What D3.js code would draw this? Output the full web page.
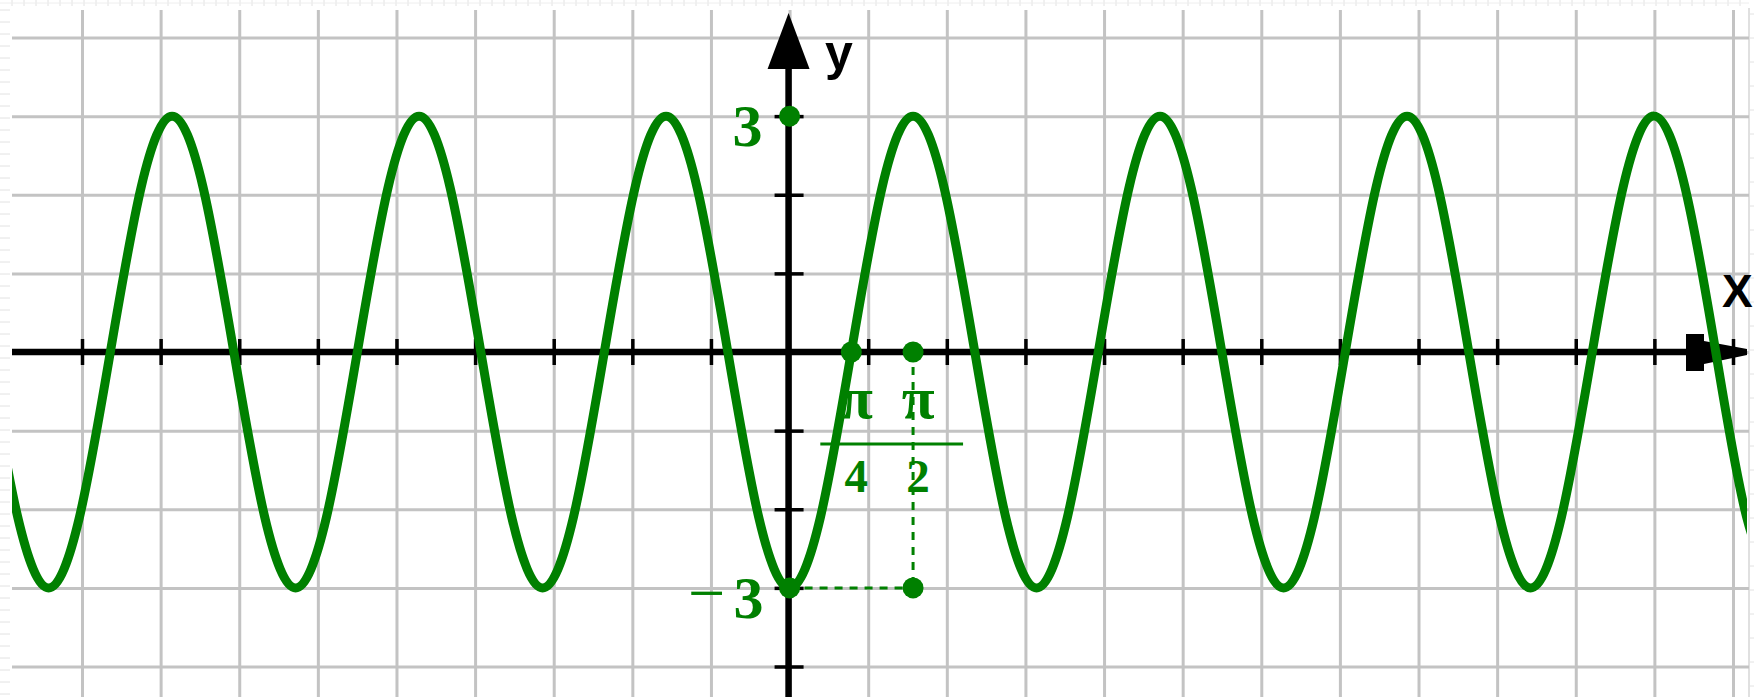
<!DOCTYPE html>
<html>
<head>
<meta charset="utf-8">
<script src="https://cdn.jsdelivr.net/npm/d3@7"></script>
<style>
  body { margin: 0; background: #fff; }
  svg { display: block; }
</style>
</head>
<body>
<script>
'use strict';

// grid squares are one unit wide
const gridX = [-9, -8, -7, -6, -5, -4, -3, -2, -1, 0, 1, 2, 3, 4, 5, 6, 7, 8, 9, 10, 11, 12];
const gridY = [-4, -3, -2, -1, 0, 1, 2, 3, 4];
const tickX = [-9, -8, -7, -6, -5, -4, -3, -2, -1, 1, 2, 3, 4, 5, 6, 7, 8, 9, 10, 11, 12];
const tickY = [-4, -3, -2, -1, 1, 2, 3];

// points of the curve (x given in quarters of pi)
const curveQuarters = [
  -13, -12.5, -12, -11.5, -11, -10.5, -10, -9.5,
  -9, -8.5, -8, -7.5, -7, -6.5, -6, -5.5,
  -5, -4.5, -4, -3.5, -3, -2.5, -2, -1.5,
  -1, -0.5, 0, 0.5, 1, 1.5, 2, 2.5,
  3, 3.5, 4, 4.5, 5, 5.5, 6, 6.5,
  7, 7.5, 8, 8.5, 9, 9.5, 10, 10.5,
  11, 11.5, 12, 12.5, 13, 13.5, 14, 14.5,
  15, 15.5, 16];
const curveValues = [
  0, -2.1, -3, -2.1, 0, 2.1, 3, 2.1,
  0, -2.1, -3, -2.1, 0, 2.1, 3, 2.1,
  0, -2.1, -3, -2.1, 0, 2.1, 3, 2.1,
  0, -2.1, -3, -2.1, 0, 2.1, 3, 2.1,
  0, -2.1, -3, -2.1, 0, 2.1, 3, 2.1,
  0, -2.1, -3, -2.1, 0, 2.1, 3, 2.1,
  0, -2.1, -3, -2.1, 0, 2.1, 3, 2.1,
  0, -2.1, -3];

// marked points and dashed guides
const markQuarters = [0, 1, 2, 0, 2];
const markValues = [3, 0, 0, -3, -3];
const guideLines = [
  [[2, 0], [2, -3]],
  [[0, -3], [2, -3]]
];

// labels
const fracNumerators = ['π', 'π'];
const fracDenominators = ['4', '2'];
const fracQuarters = [1, 2];

(function () {
  const W = 1754, H = 697;
  const green = '#008000';

  const svg = d3.select('body').append('svg')
    .attr('width', W)
    .attr('height', H);

  svg.append('rect').attr('width', W).attr('height', H).attr('fill', '#fff');

  const x = d3.scaleLinear().domain([-9, 12]).range([82, 1733]);
  const y = d3.scaleLinear().domain([-4, 4]).range([666.5, 37.5]);
  const qx = (q) => x(q * Math.PI / 4);

  // faint rulers round the sheet
  const ruler = svg.append('g').attr('stroke', '#e2e2e2').attr('stroke-width', 1);
  ruler.selectAll('.rt').data(d3.range(12, 1750, 12)).enter().append('line')
    .attr('x1', (d) => d).attr('x2', (d) => d).attr('y1', 0).attr('y2', 6);
  ruler.selectAll('.rl').data(d3.range(10, H, 12)).enter().append('line')
    .attr('x1', 0).attr('x2', 10).attr('y1', (d) => d).attr('y2', (d) => d);
  ruler.append('line').attr('x1', 0).attr('x2', 1749).attr('y1', 3).attr('y2', 3).attr('stroke', '#eeeeee');
  ruler.append('line').attr('x1', 1749).attr('x2', 1749).attr('y1', 8).attr('y2', H)
    .attr('stroke', '#d6d6d6').attr('stroke-width', 1.5);
  ruler.selectAll('.rr').data(d3.range(14, H, 24)).enter().append('line')
    .attr('x1', 1750).attr('x2', 1754).attr('y1', (d) => d).attr('y2', (d) => d);

  // grid
  svg.append('g')
    .attr('transform', 'translate(0, 10)')
    .call(d3.axisBottom(x).tickValues(gridX).tickSize(H - 10).tickFormat(''))
    .call((g) => g.select('.domain').remove())
    .selectAll('line').attr('stroke', '#c3c3c3').attr('stroke-width', 3);

  svg.append('g')
    .attr('transform', 'translate(12, 0)')
    .call(d3.axisRight(y).tickValues(gridY).tickSize(1737).tickFormat(''))
    .call((g) => g.select('.domain').remove())
    .selectAll('line').attr('stroke', '#c3c3c3').attr('stroke-width', 3);

  // value labels on the y axis
  const serif = '"Liberation Serif", "Times New Roman", serif';
  svg.append('text')
    .attr('x', x(0) - 42).attr('y', y(3) + 30)
    .attr('text-anchor', 'middle')
    .style('font-family', serif).style('font-weight', 'bold').style('font-size', '60px')
    .attr('fill', green)
    .text('3');

  svg.append('text')
    .attr('x', x(0) - 41).attr('y', y(-3) + 30)
    .attr('text-anchor', 'middle')
    .style('font-family', serif).style('font-weight', 'bold').style('font-size', '60px')
    .attr('fill', green)
    .text('3');

  svg.append('text')
    .attr('x', x(0) - 83).attr('y', y(-3) + 27)
    .attr('text-anchor', 'middle')
    .style('font-family', serif).style('font-size', '66px')
    .attr('fill', green)
    .text('−');

  // fractions pi/4 and pi/2
  svg.selectAll('.num').data(fracNumerators).enter().append('text')
    .attr('x', (d, i) => qx(fracQuarters[i]) + 5)
    .attr('y', y(0) + 66)
    .attr('text-anchor', 'middle')
    .style('font-family', serif).style('font-weight', 'bold').style('font-size', '60px')
    .attr('fill', green)
    .text((d) => d);

  svg.selectAll('.den').data(fracDenominators).enter().append('text')
    .attr('x', (d, i) => qx(fracQuarters[i]) + 5)
    .attr('y', y(0) + 140)
    .attr('text-anchor', 'middle')
    .style('font-family', serif).style('font-weight', 'bold').style('font-size', '47px')
    .attr('fill', green)
    .text((d) => d);

  svg.append('line')
    .attr('x1', qx(1) - 31).attr('x2', qx(2) + 50)
    .attr('y1', y(0) + 92).attr('y2', y(0) + 92)
    .attr('stroke', green).attr('stroke-width', 3);

  // axes
  svg.append('line')
    .attr('x1', 12).attr('x2', 1740)
    .attr('y1', y(0)).attr('y2', y(0))
    .attr('stroke', '#000').attr('stroke-width', 6.5);

  svg.append('line')
    .attr('x1', x(0) - 1).attr('x2', x(0) - 1)
    .attr('y1', H).attr('y2', 40)
    .attr('stroke', '#000').attr('stroke-width', 6.5);

  svg.append('g')
    .attr('transform', `translate(0, ${y(0) - 13})`)
    .call(d3.axisBottom(x).tickValues(tickX).tickSize(26).tickFormat(''))
    .call((g) => g.select('.domain').remove())
    .selectAll('line').attr('stroke', '#000').attr('stroke-width', 3.5);

  svg.append('g')
    .attr('transform', `translate(${x(0) - 15}, 0)`)
    .call(d3.axisRight(y).tickValues(tickY).tickSize(29).tickFormat(''))
    .call((g) => g.select('.domain').remove())
    .selectAll('line').attr('stroke', '#000').attr('stroke-width', 3.5);

  // arrow heads
  svg.append('path')
    .attr('d', `M1686,${y(0) - 18}L1704,${y(0) - 18}L1704,${y(0) - 11}L1747,${y(0) - 3}L1747,${y(0) + 3}L1704,${y(0) + 12}L1704,${y(0) + 19}L1686,${y(0) + 19}Z`)
    .attr('fill', '#000');
  svg.append('path')
    .attr('d', `M${x(0) - 22},69L${x(0) + 20},69L${x(0) - 1},13Z`)
    .attr('fill', '#000');

  // axis names
  const sans = '"Liberation Sans", Arial, sans-serif';
  svg.append('text')
    .attr('x', 825).attr('y', 70)
    .style('font-family', sans).style('font-weight', 'bold').style('font-size', '50px')
    .attr('fill', '#000')
    .text('y');
  svg.append('text')
    .attr('x', 1722).attr('y', 307)
    .style('font-family', sans).style('font-weight', 'bold').style('font-size', '46px')
    .attr('fill', '#000')
    .text('X');

  // the curve
  svg.append('clipPath').attr('id', 'plot-clip')
    .append('rect').attr('x', 12).attr('y', 0).attr('width', 1735).attr('height', H);

  const curveData = curveQuarters.map((q, i) => ({ q: q, v: curveValues[i] }));
  const line = d3.line()
    .x((d) => qx(d.q))
    .y((d) => y(d.v))
    .curve(d3.curveNatural);

  svg.append('path')
    .datum(curveData)
    .attr('clip-path', 'url(#plot-clip)')
    .attr('fill', 'none')
    .attr('stroke', green)
    .attr('stroke-width', 9)
    .attr('stroke-linejoin', 'round')
    .attr('d', line);

  // dashed guides
  svg.selectAll('.guide').data(guideLines).enter().append('line')
    .attr('x1', (d) => qx(d[0][0])).attr('y1', (d) => y(d[0][1]))
    .attr('x2', (d) => qx(d[1][0])).attr('y2', (d) => y(d[1][1]))
    .attr('stroke', green)
    .attr('stroke-width', 3)
    .attr('stroke-dasharray', '8,7');

  // marked points
  svg.selectAll('.mark').data(markQuarters).enter().append('circle')
    .attr('cx', (d) => qx(d))
    .attr('cy', (d, i) => y(markValues[i]))
    .attr('r', 10.5)
    .attr('fill', green);
})();
</script>
</body>
</html>
